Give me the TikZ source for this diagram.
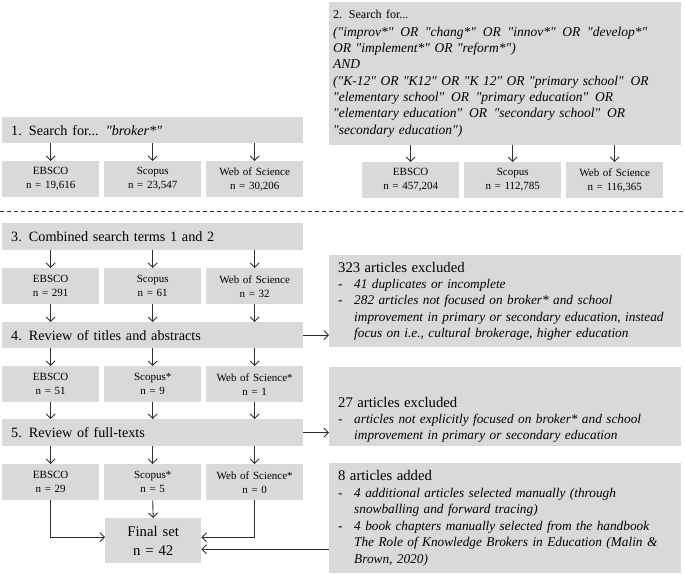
\documentclass[tikz,border=0pt]{standalone}
\usepackage{fontspec}
\setmainfont{Liberation Serif}
\usepackage{xcolor}
\usepackage{tikz}
\usetikzlibrary{positioning, arrows.meta, calc}

\definecolor{boxgray}{RGB}{217,217,217}
\definecolor{linegray}{RGB}{45,45,45}

% straight quote and dashed list entries in the side boxes
\newcommand{\q}{\textquotedbl}
\newcommand{\dashitem}[1]{\makebox[16pt][l]{-}\mbox{\itshape #1}}
\newcommand{\dashcont}[1]{\hspace*{16pt}\mbox{\itshape #1}}

\begin{document}
\begin{tikzpicture}[
        x=1pt, y=-1pt,
        % Style for the numbered search steps
        stepbox/.style={
            fill=boxgray,
            anchor=north west,
            text width=283pt,
            inner xsep=9pt,
            inner ysep=0pt,
            minimum height=26pt,
            align=left,
            font=\fontsize{14.2}{17}\selectfont
        },
        % Style for the database result cells
        dbcell/.style={
            fill=boxgray,
            anchor=north west,
            text width=97pt,
            inner xsep=0pt,
            inner ysep=0pt,
            minimum height=36pt,
            align=center,
            font=\fontsize{11}{14}\selectfont
        },
        % Style for the boxes on the right side
        notebox/.style={
            fill=boxgray,
            anchor=north west,
            text width=334pt,
            inner xsep=9pt,
            inner ysep=0pt,
            align=left,
            font=\fontsize{14.7}{16.3}\selectfont
        },
        % Style for the final result
        finalbox/.style={
            fill=boxgray,
            anchor=north west,
            text width=96pt,
            inner xsep=0pt,
            minimum height=45pt,
            align=center,
            font=\fontsize{14.7}{19}\selectfont
        },
        % Style for the connectors
        flow/.style={
            draw=linegray,
            line width=0.9pt,
            -{Straight Barb[length=4.5pt, width=9pt]}
        },
        cutline/.style={
            draw=linegray,
            line width=0.8pt,
            dash pattern=on 4pt off 3pt
        }
    ]
    \useasboundingbox (0,0) rectangle (685,575);

    % ==========================================
    % SEARCH 1
    % ==========================================
    \node[stepbox] (s1) at (2,117) {1. Search for... \textit{\q broker*\q}};

    \node[dbcell] (r1a) at (2,161) {EBSCO\\n = 19,616};
    \node[dbcell] (r1b) at (104,161) {Scopus\\n = 23,547};
    \node[dbcell] (r1c) at (206,161) {Web of Science\\n = 30,206};

    \draw[flow] (s1.south -| r1a.north) -- (r1a.north);
    \draw[flow] (s1.south -| r1b.north) -- (r1b.north);
    \draw[flow] (s1.south -| r1c.north) -- (r1c.north);

    % ==========================================
    % SEARCH 2
    % ==========================================
    \node[notebox, text width=344pt, inner xsep=4pt, minimum height=143pt,
          font=\fontsize{13.5}{16.3}\selectfont] (s2) at (329,2)
        {{\fontsize{12}{14}\selectfont 2. Search for...}\\[1pt]
         \mbox{\itshape (\q improv*\q\enspace OR\enspace \q chang*\q\enspace OR\enspace \q innov*\q\enspace OR\enspace \q develop*\q}\\
         \mbox{\itshape OR \q implement*\q\ OR \q reform*\q)}\\
         \mbox{\itshape AND}\\
         \mbox{\itshape (\q K-12\q\ OR \q K12\q\ OR \q K 12\q\ OR \q primary school\q\enspace OR}\\
         \mbox{\itshape \q elementary school\q\enspace OR\enspace \q primary education\q\enspace OR}\\
         \mbox{\itshape \q elementary education\q\enspace OR\enspace \q secondary school\q\enspace OR}\\
         \mbox{\itshape \q secondary education\q)}};

    \node[dbcell] (q1a) at (362,162) {EBSCO\\n = 457,204};
    \node[dbcell] (q1b) at (464,162) {Scopus\\n = 112,785};
    \node[dbcell] (q1c) at (566,162) {Web of Science\\n = 116,365};

    \draw[flow] (s2.south -| q1a.north) -- (q1a.north);
    \draw[flow] (s2.south -| q1b.north) -- (q1b.north);
    \draw[flow] (s2.south -| q1c.north) -- (q1c.north);

    % dashed separation
    \coordinate (cutL) at (0,211);
    \coordinate (cutR) at (685,211);
    \draw[cutline] (cutL) -- (cutR);

    % ==========================================
    % SCREENING
    % ==========================================
    \node[stepbox, minimum height=27pt] (s3) at (2,223) {3. Combined search terms 1 and 2};

    \node[dbcell] (r2a) at (2,268) {EBSCO\\n = 291};
    \node[dbcell] (r2b) at (104,268) {Scopus\\n = 61};
    \node[dbcell] (r2c) at (206,268) {Web of Science\\n = 32};

    \node[stepbox] (s4) at (2,322) {4. Review of titles and abstracts};

    \node[dbcell] (r3a) at (2,366) {EBSCO\\n = 51};
    \node[dbcell] (r3b) at (104,366) {Scopus*\\n = 9};
    \node[dbcell] (r3c) at (206,366) {Web of Science*\\n = 1};

    \node[stepbox, minimum height=27pt] (s5) at (2,419) {5. Review of full-texts};

    \node[dbcell] (r4a) at (2,464) {EBSCO\\n = 29};
    \node[dbcell] (r4b) at (104,464) {Scopus*\\n = 5};
    \node[dbcell] (r4c) at (206,464) {Web of Science*\\n = 0};

    \node[finalbox] (final) at (105,518) {Final set\\n = 42};
    \coordinate (finL) at ([yshift=3.5pt]final.west);
    \coordinate (finR) at ([yshift=3.5pt]final.east);
    \coordinate (finAdd) at ([yshift=-8.5pt]final.east);

    \draw[flow] (s3.south -| r2a.north) -- (r2a.north);
    \draw[flow] (s3.south -| r2b.north) -- (r2b.north);
    \draw[flow] (s3.south -| r2c.north) -- (r2c.north);

    \draw[flow] (r2a.south) -- (r2a.south |- s4.north);
    \draw[flow] (r2b.south) -- (r2b.south |- s4.north);
    \draw[flow] (r2c.south) -- (r2c.south |- s4.north);

    \draw[flow] (s4.south -| r3a.north) -- (r3a.north);
    \draw[flow] (s4.south -| r3b.north) -- (r3b.north);
    \draw[flow] (s4.south -| r3c.north) -- (r3c.north);

    \draw[flow] (r3a.south) -- (r3a.south |- s5.north);
    \draw[flow] (r3b.south) -- (r3b.south |- s5.north);
    \draw[flow] (r3c.south) -- (r3c.south |- s5.north);

    \draw[flow] (s5.south -| r4a.north) -- (r4a.north);
    \draw[flow] (s5.south -| r4b.north) -- (r4b.north);
    \draw[flow] (s5.south -| r4c.north) -- (r4c.north);

    \draw[flow] (r4a.south) |- (finL);
    \draw[flow] (r4b.south) -- (final.north);
    \draw[flow] (r4c.south) |- (finR);

    % ==========================================
    % EXCLUDED / ADDED
    % ==========================================
    \node[notebox, minimum height=92pt, font=\fontsize{13.3}{16.3}\selectfont] (ex1) at (329,255)
        {{\fontsize{14.7}{16}\selectfont 323 articles excluded}\\
         \dashitem{41 duplicates or incomplete}\\
         \dashitem{282 articles not focused on broker* and school}\\
         \dashcont{improvement in primary or secondary education, instead}\\
         \dashcont{focus on i.e., cultural brokerage, higher education}};

    \node[notebox, minimum height=79pt, font=\fontsize{13.3}{16}\selectfont] (ex2) at (329,367)
        {\rule{0pt}{37pt}{\fontsize{14.7}{16}\selectfont 27 articles excluded}\\
         \dashitem{articles not explicitly focused on broker* and school}\\
         \dashcont{improvement in primary or secondary education}};

    \node[notebox, minimum height=110pt, font=\fontsize{13.3}{16.5}\selectfont] (add) at (329,463)
        {{\fontsize{14.7}{16}\selectfont 8 articles added}\\
         \dashitem{4 additional articles selected manually (through}\\
         \dashcont{snowballing and forward tracing)}\\
         \dashitem{4 book chapters manually selected from the handbook}\\
         \dashcont{The Role of Knowledge Brokers in Education (Malin \&}\\
         \dashcont{Brown, 2020)}};

    \draw[flow] (s4.east) -- (s4.east -| ex1.west);
    \draw[flow] (s5.east) -- (s5.east -| ex2.west);
    \draw[flow] (add.west |- finAdd) -- (finAdd);
  \end{tikzpicture}
\end{document}
